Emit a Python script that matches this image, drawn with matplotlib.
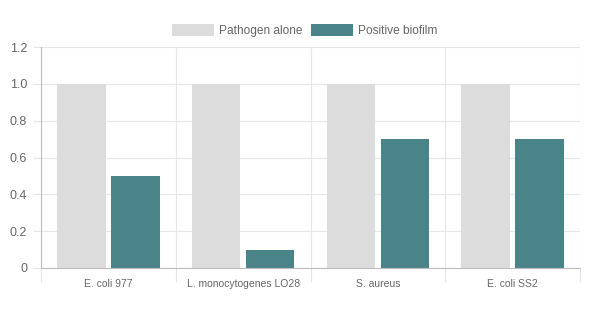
import matplotlib
matplotlib.use("Agg")
import matplotlib.pyplot as plt
import numpy as np

plt.rcParams['font.family'] = ['Liberation Sans', 'DejaVu Sans']

categories = ["E. coli 977", "L. monocytogenes LO28", "S. aureus", "E. coli SS2"]
pathogen_alone = [1.0, 1.0, 1.0, 1.0]
positive_biofilm = [0.5, 0.1, 0.7, 0.7]
y_ticks = [0, 0.2, 0.4, 0.6, 0.8, 1.0, 1.2]
y_tick_labels = ["0", "0.2", "0.4", "0.6", "0.8", "1.0", "1.2"]

W, H = 602, 331
fig = plt.figure(figsize=(W / 100, H / 100), dpi=100)
ax = fig.add_axes([41 / W, (H - 268) / H, (580 - 41) / W, (268 - 47) / H])

n = len(categories)
x = np.arange(n)
bar_w = 0.8 / 2 * 0.9
offset = 0.8 / 4

grey = "#dcdcdc"
teal = "#4a8489"

ax.bar(x - offset, pathogen_alone, width=bar_w, color=grey, label="Pathogen alone", zorder=2)
ax.bar(x + offset, positive_biofilm, width=bar_w, color=teal, label="Positive biofilm", zorder=2)

ax.set_xlim(-0.5, n - 0.5)
ax.set_ylim(0, 1.2)
ax.set_yticks(y_ticks)
ax.set_yticklabels(y_tick_labels)
ax.set_xticks(x)
ax.set_xticklabels(categories)

# category separators and horizontal grid
ax.set_xticks(np.arange(n + 1) - 0.5, minor=True)
ax.grid(axis='y', color="#e6e6e6", linewidth=0.8, zorder=0)
ax.grid(axis='x', which='minor', color="#e6e6e6", linewidth=0.8, zorder=0)
ax.tick_params(axis='x', which='major', length=0, pad=8, labelsize=7.5, labelcolor="#666666")
ax.tick_params(axis='x', which='minor', length=10, color="#e6e6e6", width=0.8)
ax.tick_params(axis='y', length=6, color="#e6e6e6", width=0.8, labelsize=9, labelcolor="#666666", pad=4)

for side in ['top', 'right']:
    ax.spines[side].set_visible(False)
ax.spines['left'].set_color("#bdbdbd")
ax.spines['bottom'].set_color("#bdbdbd")
ax.spines['left'].set_linewidth(0.8)
ax.spines['bottom'].set_linewidth(0.8)

leg = fig.legend(loc='center', bbox_to_anchor=(305 / W, 1 - 30.5 / H), ncol=2, frameon=False,
                 handlelength=3.5, handleheight=1.2, handletextpad=0.45, columnspacing=0.7,
                 fontsize=8.6)
for t in leg.get_texts():
    t.set_color("#666666")

fig.savefig("out.png", dpi=100)
